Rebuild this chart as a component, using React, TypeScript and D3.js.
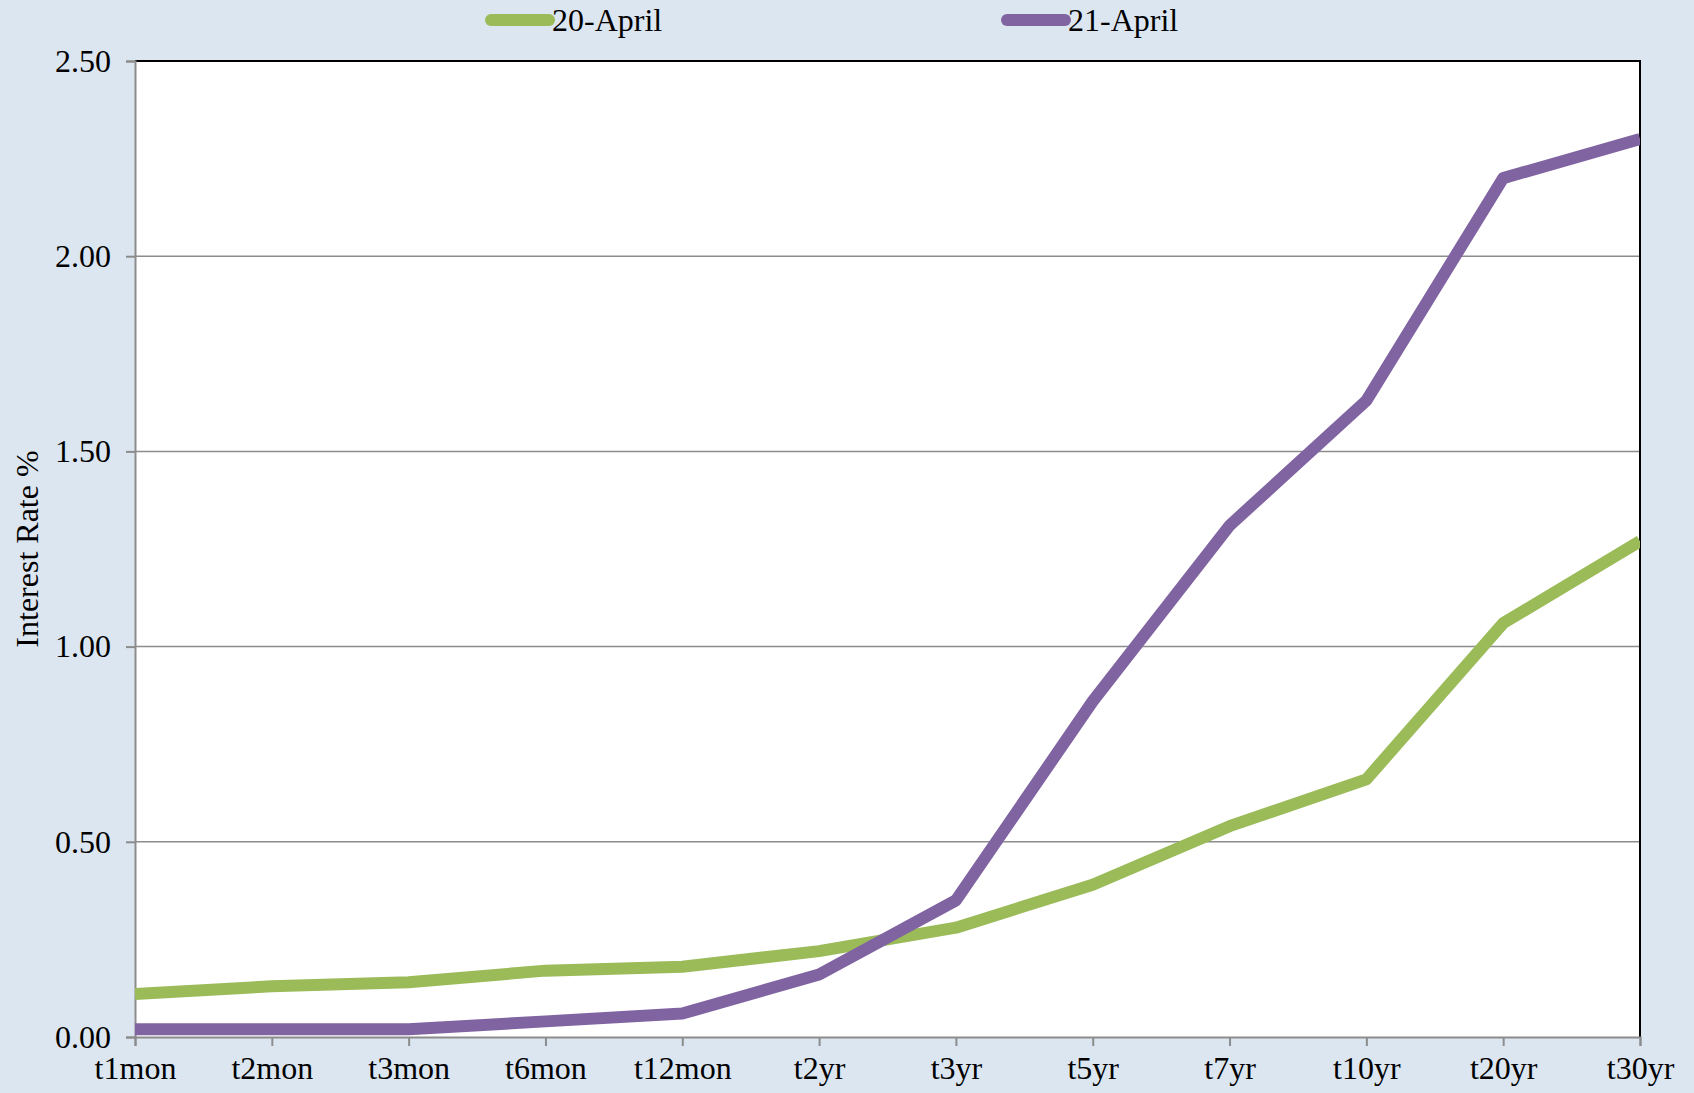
import { useEffect, useRef } from 'react';
import * as d3 from 'd3';

const maturities = ['t1mon', 't2mon', 't3mon', 't6mon', 't12mon', 't2yr', 't3yr', 't5yr', 't7yr', 't10yr', 't20yr', 't30yr'];
const april20 = [0.11, 0.13, 0.14, 0.17, 0.18, 0.22, 0.28, 0.39, 0.54, 0.66, 1.06, 1.27];
const april21 = [0.02, 0.02, 0.02, 0.04, 0.06, 0.16, 0.35, 0.86, 1.31, 1.63, 2.2, 2.3];
const yTicks = [0, 0.5, 1, 1.5, 2, 2.5];

const seriesList = [
  { name: '20-April', values: april20, color: '#9bbb59' },
  { name: '21-April', values: april21, color: '#8064a2' },
];

const W = 1694;
const H = 1093;
const FONT = '"Liberation Serif", "Times New Roman", serif';

export default function App() {
  const svgRef = useRef<SVGSVGElement>(null);

  useEffect(() => {
    document.body.style.margin = '0';
    const svg = d3.select(svgRef.current);
    svg.selectAll('*').remove();

    const margin = { top: 61, right: 54, bottom: 56, left: 135 };
    const width = W - margin.left - margin.right;
    const height = H - margin.top - margin.bottom;

    svg.append('rect').attr('width', W).attr('height', H).attr('fill', '#dce6f1');

    const g = svg.append('g').attr('transform', `translate(${margin.left},${margin.top})`);

    const x = d3.scalePoint<string>().domain(maturities).range([0, width]);
    const y = d3.scaleLinear().domain([0, 2.5]).range([height, 0]);

    g.append('rect').attr('width', width).attr('height', height).attr('fill', '#fff');

    // grid
    g.selectAll('.grid')
      .data(yTicks.slice(1))
      .enter()
      .append('line')
      .attr('x1', 0)
      .attr('x2', width)
      .attr('y1', d => y(d))
      .attr('y2', d => y(d))
      .attr('stroke', '#8c8c8c')
      .attr('stroke-width', 1.5);

    // top + right frame
    g.append('path')
      .attr('d', `M0,0H${width}V${height}`)
      .attr('fill', 'none')
      .attr('stroke', '#000')
      .attr('stroke-width', 2);

    // y axis
    const yAxis = g.append('g').call(
      d3.axisLeft(y).tickValues(yTicks).tickFormat(d3.format('.2f')).tickSize(9).tickPadding(15)
    );
    yAxis.select('.domain').attr('stroke', '#8c8c8c').attr('stroke-width', 2);
    yAxis.selectAll('.tick line').attr('stroke', '#8c8c8c').attr('stroke-width', 2);
    yAxis.selectAll('text').attr('font-family', FONT).attr('font-size', 32).attr('fill', '#000');

    // x axis
    const xAxis = g
      .append('g')
      .attr('transform', `translate(0,${height})`)
      .call(d3.axisBottom(x).tickSize(9).tickPadding(10));
    xAxis.select('.domain').attr('stroke', '#8c8c8c').attr('stroke-width', 2);
    xAxis.selectAll('.tick line').attr('stroke', '#8c8c8c').attr('stroke-width', 2);
    xAxis.selectAll('text').attr('font-family', FONT).attr('font-size', 32).attr('fill', '#000');

    // y title
    svg
      .append('text')
      .attr('transform', `translate(38,${margin.top + height / 2}) rotate(-90)`)
      .attr('text-anchor', 'middle')
      .attr('font-family', FONT)
      .attr('font-size', 32)
      .text('Interest Rate %');

    // lines
    g.append('clipPath').attr('id', 'plotclip').append('rect').attr('width', width).attr('height', height);

    const line = d3
      .line<number>()
      .x((d, i) => x(maturities[i]) as number)
      .y(d => y(d));

    seriesList.forEach(s => {
      g.append('path')
        .datum(s.values)
        .attr('clip-path', 'url(#plotclip)')
        .attr('d', line)
        .attr('fill', 'none')
        .attr('stroke', s.color)
        .attr('stroke-width', 12)
        .attr('stroke-linejoin', 'round');
    });

    // legend
    const legendX = [491, 1007];
    seriesList.forEach((s, i) => {
      const lg = svg.append('g').attr('transform', `translate(${legendX[i]},20)`);
      lg.append('line')
        .attr('x1', 0)
        .attr('x2', 58)
        .attr('stroke', s.color)
        .attr('stroke-width', 12)
        .attr('stroke-linecap', 'round');
      lg.append('text')
        .attr('x', 61)
        .attr('dy', '0.35em')
        .attr('font-family', FONT)
        .attr('font-size', 32)
        .text(s.name);
    });
  }, []);

  return <svg ref={svgRef} width={W} height={H} style={{ display: 'block' }} />;
}
